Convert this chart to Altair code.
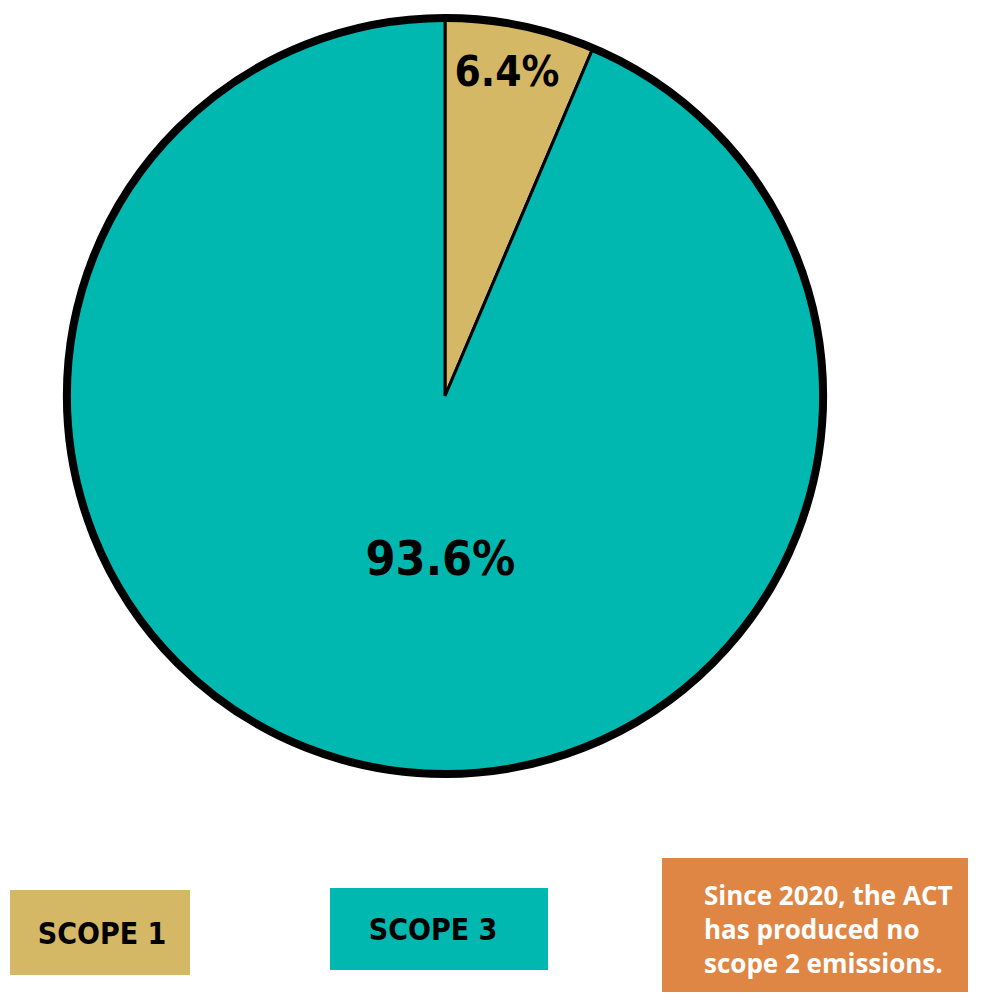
import altair as alt
import pandas as pd

categories = ["Scope 1", "Scope 3"]
shares = [6.4, 93.6]
labels = ["6.4%", "93.6%"]
legend_text = ["SCOPE 1", "SCOPE 3"]
colors = ["#D4B865", "#00B8B0"]
note_lines = ["Since 2020, the ACT", "has produced no", "scope 2 emissions."]

df = pd.DataFrame({"category": categories, "share": shares, "label": labels,
                   "legend": legend_text, "order": [0, 1]})

CX, CY, R = 437, 388, 378
HAND = "DejaVu Sans Condensed, Liberation Sans Narrow, sans-serif"

base = alt.Chart(df)
color = alt.Color("category:N", scale=alt.Scale(domain=categories, range=colors), legend=None)

slices = base.mark_arc(stroke="black", strokeWidth=3, radius=R).encode(
    theta=alt.Theta("share:Q", stack=True),
    order=alt.Order("order:Q"),
    color=color,
    x=alt.value(CX), y=alt.value(CY),
)

ring = base.transform_aggregate(total="sum(share)").mark_arc(
    fillOpacity=0, stroke="black", strokeWidth=8, radius=R
).encode(theta=alt.Theta("total:Q"), x=alt.value(CX), y=alt.value(CY))

label_cfg = [(330, 42, -4), (168, 48, 29)]
text_layers = []
for i, (rad, fs, dx) in enumerate(label_cfg):
    text_layers.append(base.mark_text(font=HAND, fontSize=fs, fontWeight="bold", color="black",
                                      dx=dx, radius=rad).encode(
        theta=alt.Theta("share:Q", stack=True),
        order=alt.Order("order:Q"),
        text="label:N",
        opacity=alt.condition(alt.datum.category == categories[i], alt.value(1), alt.value(0)),
        x=alt.value(CX), y=alt.value(CY),
    ))

legend_boxes = []
box_pos = [(2, 182, 882, 967), (322, 540, 880, 962)]
for i, (x1, x2, y1, y2) in enumerate(box_pos):
    sub = base.transform_filter(alt.datum.category == categories[i])
    legend_boxes.append(sub.mark_rect(color=colors[i]).encode(
        x=alt.value(x1), x2=alt.value(x2), y=alt.value(y1), y2=alt.value(y2)))
    legend_boxes.append(sub.mark_text(font=HAND, fontSize=30, fontWeight="bold", color="black",
                                      align="center", baseline="middle").encode(
        text="legend:N", x=alt.value((x1 + x2) / 2 + (2 if i == 0 else -6)),
        y=alt.value((y1 + y2) / 2 + 2)))

note_df = pd.DataFrame({"line": note_lines, "i": [0, 1, 2]})
note_box = alt.Chart(note_df).transform_aggregate(n="count()").mark_rect(color="#DF8645").encode(
    x=alt.value(654), x2=alt.value(960), y=alt.value(850), y2=alt.value(987))
note_text = alt.Chart(note_df).transform_calculate(yy="889 + datum.i * 34").mark_text(
    font="Open Sans", fontWeight="bold", fontSize=26, color="white", align="left",
    baseline="middle").encode(text="line:N", x=alt.value(696),
                              y=alt.Y("yy:Q", scale=None))

chart = alt.layer(slices, ring, *text_layers, *legend_boxes, note_box, note_text).properties(
    width=966, height=984, autosize=alt.AutoSizeParams(type="none"), padding=0,
    background="white"
).configure_view(stroke=None)

chart.save("out.html", embed_options={"renderer": "svg", "actions": False})
